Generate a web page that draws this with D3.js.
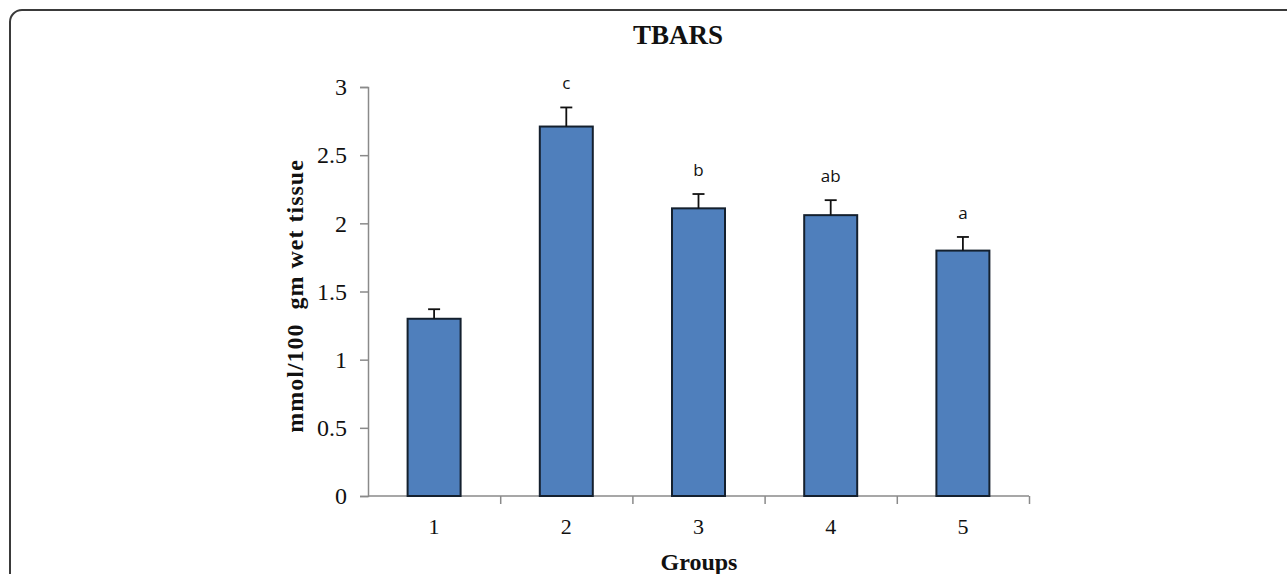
<!DOCTYPE html>
<html>
<head>
<meta charset="utf-8">
<script src="https://cdn.jsdelivr.net/npm/d3@7"></script>
<style>
  html, body { margin: 0; padding: 0; background: #fff; }
  svg { display: block; }
</style>
</head>
<body>
<svg id="chart" width="1287" height="574"></svg>
<script>
// TBARS by treatment group
const groups = ["1", "2", "3", "4", "5"];
const means = [1.30, 2.71, 2.11, 2.06, 1.80];
const errors = [0.07, 0.14, 0.105, 0.11, 0.10];
const letters = ["", "c", "b", "ab", "a"];
const yTicks = [0, 0.5, 1, 1.5, 2, 2.5, 3];

const svg = d3.select("#chart");

// outer frame with rounded corner (runs past the right and bottom edges)
svg.append("rect")
  .attr("x", 10).attr("y", 10)
  .attr("width", 1300).attr("height", 620)
  .attr("rx", 12).attr("ry", 12)
  .attr("fill", "#fff")
  .attr("stroke", "#3a3a3a")
  .attr("stroke-width", 2);

const plot = { left: 368, right: 1029, top: 87, bottom: 496 };

const x = d3.scaleBand().domain(groups).range([plot.left, plot.right]).paddingInner(0).paddingOuter(0);
const y = d3.scaleLinear().domain([0, 3]).range([plot.bottom, plot.top]);

const serif = "'Liberation Serif', 'Times New Roman', serif";
const sans = "'Open Sans', 'Liberation Sans', Arial, sans-serif";
const axisColor = "#8a8a8a";

// y axis
const yAxis = svg.append("g")
  .attr("transform", `translate(${plot.left},0)`)
  .call(d3.axisLeft(y).tickValues(yTicks).tickSize(8).tickPadding(13).tickFormat(d3.format("")));
yAxis.select(".domain").attr("stroke", axisColor).attr("stroke-width", 1.5);
yAxis.selectAll(".tick line").attr("stroke", axisColor).attr("stroke-width", 1.5);
yAxis.selectAll(".tick text")
  .attr("font-family", serif).attr("font-size", 24).attr("fill", "#111");

// x axis: ticks on band boundaries, labels at band centres
const xAxisG = svg.append("g").attr("transform", `translate(0,${plot.bottom})`);
const boundaries = groups.map(g => x(g) + x.bandwidth());
const xb = d3.scaleLinear().domain([plot.left, plot.right]).range([plot.left, plot.right]);
xAxisG.call(d3.axisBottom(xb).tickValues(boundaries).tickSize(8).tickFormat(""));
xAxisG.select(".domain").attr("d", `M${plot.left},0H${plot.right}`)
  .attr("stroke", axisColor).attr("stroke-width", 1.5);
xAxisG.selectAll(".tick line").attr("stroke", axisColor).attr("stroke-width", 1.5);

svg.append("g").selectAll("text.xlab")
  .data(groups)
  .join("text")
  .attr("class", "xlab")
  .attr("x", d => x(d) + x.bandwidth() / 2)
  .attr("y", 534)
  .attr("text-anchor", "middle")
  .attr("font-family", serif).attr("font-size", 22).attr("fill", "#111")
  .text(d => d);

// bars
const barW = 53;
const data = groups.map((g, i) => ({ g, v: means[i], e: errors[i], l: letters[i] }));
const cx = d => x(d.g) + x.bandwidth() / 2;

svg.append("g").selectAll("rect.bar")
  .data(data)
  .join("rect")
  .attr("class", "bar")
  .attr("x", d => cx(d) - barW / 2)
  .attr("y", d => y(d.v))
  .attr("width", barW)
  .attr("height", d => y(0) - y(d.v))
  .attr("fill", "#4f7fbc")
  .attr("stroke", "#14202e")
  .attr("stroke-width", 2);

// error bars (upper only)
const eb = svg.append("g").attr("stroke", "#111").attr("stroke-width", 1.8);
eb.selectAll("line.stem").data(data).join("line")
  .attr("x1", cx).attr("x2", cx)
  .attr("y1", d => y(d.v)).attr("y2", d => y(d.v + d.e));
eb.selectAll("line.cap").data(data).join("line")
  .attr("x1", d => cx(d) - 6).attr("x2", d => cx(d) + 6)
  .attr("y1", d => y(d.v + d.e)).attr("y2", d => y(d.v + d.e));

// significance letters
svg.append("g").selectAll("text.sig")
  .data(data.filter(d => d.l))
  .join("text")
  .attr("x", cx)
  .attr("y", d => y(d.v + d.e) - 18)
  .attr("text-anchor", "middle")
  .attr("font-family", sans).attr("font-size", 17).attr("fill", "#111")
  .text(d => d.l);

// title and axis titles
svg.append("text")
  .attr("x", 678).attr("y", 44)
  .attr("text-anchor", "middle")
  .attr("font-family", serif).attr("font-weight", "bold").attr("font-size", 27)
  .attr("fill", "#111")
  .text("TBARS");

svg.append("text")
  .attr("transform", "translate(303,296) rotate(-90)")
  .attr("text-anchor", "middle")
  .attr("font-family", serif).attr("font-weight", "bold").attr("font-size", 24)
  .attr("letter-spacing", 1)
  .attr("fill", "#111")
  .style("white-space", "pre")
  .text("mmol/100  gm wet tissue");

svg.append("text")
  .attr("x", 699).attr("y", 570)
  .attr("text-anchor", "middle")
  .attr("font-family", serif).attr("font-weight", "bold").attr("font-size", 24)
  .attr("fill", "#111")
  .text("Groups");
</script>
</body>
</html>
